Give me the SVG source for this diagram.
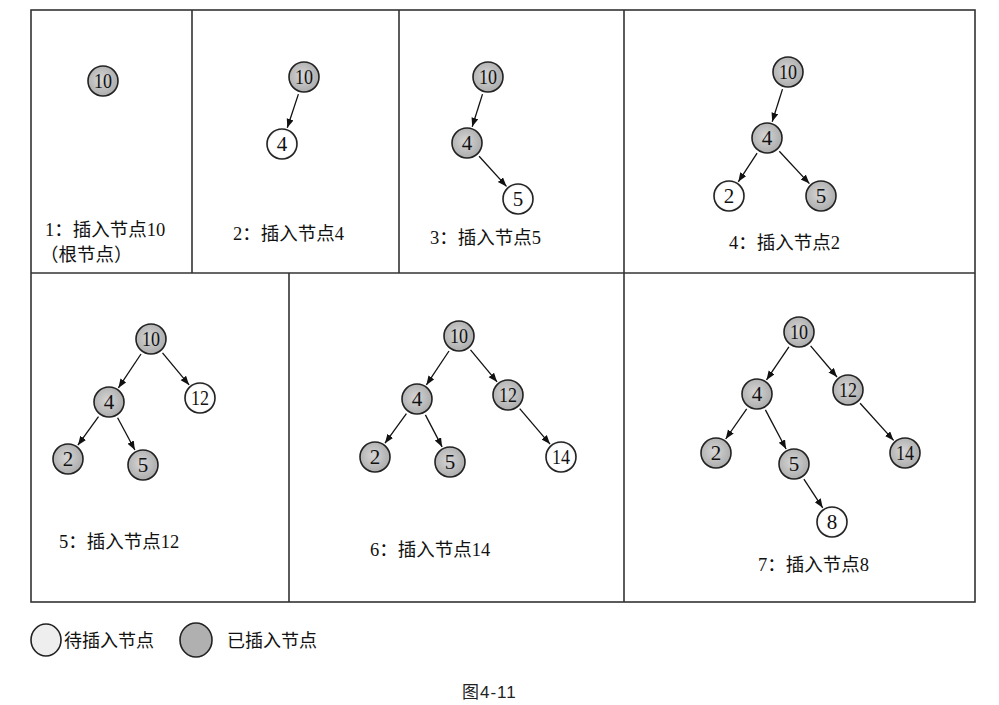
<svg xmlns="http://www.w3.org/2000/svg" width="999" height="705" viewBox="0 0 999 705">
<defs>
<radialGradient id="g" cx="0.45" cy="0.45" r="0.6">
<stop offset="0" stop-color="#d6d6d6"/>
<stop offset="1" stop-color="#a9a9a9"/>
</radialGradient>
<radialGradient id="w" cx="0.5" cy="0.5" r="0.55">
<stop offset="0.75" stop-color="#ffffff"/>
<stop offset="1" stop-color="#dcdcdc"/>
</radialGradient>
<marker id="ah" markerUnits="userSpaceOnUse" markerWidth="10" markerHeight="8" refX="9" refY="3.5" orient="auto">
<path d="M0,0 L9,3.5 L0,7 z" fill="#111"/>
</marker>
</defs>
<style>
.frame{fill:none;stroke:#333;stroke-width:1.6}
.done{fill:url(#g);stroke:#222;stroke-width:1.6}
.new{fill:url(#w);stroke:#222;stroke-width:1.6}
.num{font-family:"Liberation Serif",serif;font-size:21px;fill:#111;text-anchor:middle;dominant-baseline:central}
.lbl{font-family:"Liberation Serif","Noto Sans CJK SC",serif;font-size:18.5px;fill:#111}
.leg{font-family:"Noto Sans CJK SC",sans-serif;font-size:18px;fill:#111}
.cap{font-family:"Liberation Sans","Noto Sans CJK SC",sans-serif;font-size:17px;fill:#222}
#edges line{stroke:#111;stroke-width:1.3;marker-end:url(#ah)}
</style>
<rect width="999" height="705" fill="#fff"/>
<g id="frame">
<rect class="frame" x="31" y="10" width="944" height="592"/>
<line class="frame" x1="31" y1="273" x2="975" y2="273"/>
<line class="frame" x1="192" y1="10" x2="192" y2="273"/>
<line class="frame" x1="399" y1="10" x2="399" y2="273"/>
<line class="frame" x1="624" y1="10" x2="624" y2="602"/>
<line class="frame" x1="289" y1="273" x2="289" y2="602"/>
</g>
<g id="edges">
<line x1="298.4" y1="94.1" x2="287.3" y2="127.8"/>
<line x1="482.5" y1="94.1" x2="472.2" y2="126.8"/>
<line x1="479.1" y1="156.3" x2="506.5" y2="186.4"/>
<line x1="782.5" y1="89.1" x2="772.2" y2="121.8"/>
<line x1="757.1" y1="153.1" x2="738.3" y2="181.8"/>
<line x1="779.3" y1="151.2" x2="809.4" y2="183.6"/>
<line x1="141" y1="354" x2="118.4" y2="387.9"/>
<line x1="162.5" y1="352.8" x2="189.1" y2="384.9"/>
<line x1="98.5" y1="416.6" x2="77.9" y2="445.2"/>
<line x1="117.6" y1="417.8" x2="134.9" y2="450"/>
<line x1="449" y1="351" x2="426.4" y2="384.9"/>
<line x1="470.5" y1="349.8" x2="497.1" y2="381.9"/>
<line x1="406.4" y1="413.6" x2="385" y2="443.2"/>
<line x1="425.4" y1="414.9" x2="442.1" y2="446.9"/>
<line x1="519.7" y1="408.7" x2="550" y2="444.1"/>
<line x1="788.9" y1="346.9" x2="766.5" y2="379.9"/>
<line x1="810.6" y1="345.8" x2="837" y2="377"/>
<line x1="746.7" y1="408.8" x2="725.7" y2="439"/>
<line x1="765.4" y1="409.9" x2="786.1" y2="449"/>
<line x1="860.1" y1="403.3" x2="893.6" y2="440.4"/>
<line x1="803.9" y1="479.1" x2="822.7" y2="507.8"/>
</g>
<g id="p1">
<g id="p1n10"><circle class="done" cx="103" cy="81" r="15"/><text class="num" x="103" y="81" textLength="18" lengthAdjust="spacingAndGlyphs">10</text></g>
<text class="lbl" x="45" y="236">1：插入节点10</text>
<text class="lbl" x="40" y="261">（根节点）</text>
</g>
<g id="p2">
<g id="p2n10"><circle class="done" cx="304" cy="77" r="15"/><text class="num" x="304" y="77" textLength="18" lengthAdjust="spacingAndGlyphs">10</text></g>
<g id="p2n4"><circle class="new" cx="282" cy="144" r="15"/><text class="num" x="282" y="144">4</text></g>
<text class="lbl" x="233" y="240">2：插入节点4</text>
</g>
<g id="p3">
<g id="p3n10"><circle class="done" cx="488" cy="77" r="15"/><text class="num" x="488" y="77" textLength="18" lengthAdjust="spacingAndGlyphs">10</text></g>
<g id="p3n4"><circle class="done" cx="467" cy="143" r="15"/><text class="num" x="467" y="143">4</text></g>
<g id="p3n5"><circle class="new" cx="518" cy="199" r="15"/><text class="num" x="518" y="199">5</text></g>
<text class="lbl" x="430" y="244">3：插入节点5</text>
</g>
<g id="p4">
<g id="p4n10"><circle class="done" cx="788" cy="72" r="15"/><text class="num" x="788" y="72" textLength="18" lengthAdjust="spacingAndGlyphs">10</text></g>
<g id="p4n4"><circle class="done" cx="767" cy="138" r="15"/><text class="num" x="767" y="138">4</text></g>
<g id="p4n2"><circle class="new" cx="729" cy="196" r="15"/><text class="num" x="729" y="196">2</text></g>
<g id="p4n5"><circle class="done" cx="821" cy="196" r="15"/><text class="num" x="821" y="196">5</text></g>
<text class="lbl" x="729" y="249">4：插入节点2</text>
</g>
<g id="p5">
<g id="p5n10"><circle class="done" cx="151" cy="339" r="15"/><text class="num" x="151" y="339" textLength="18" lengthAdjust="spacingAndGlyphs">10</text></g>
<g id="p5n4"><circle class="done" cx="109" cy="402" r="15"/><text class="num" x="109" y="402">4</text></g>
<g id="p5n12"><circle class="new" cx="200" cy="398" r="15"/><text class="num" x="200" y="398" textLength="18" lengthAdjust="spacingAndGlyphs">12</text></g>
<g id="p5n2"><circle class="done" cx="68" cy="459" r="15"/><text class="num" x="68" y="459">2</text></g>
<g id="p5n5"><circle class="done" cx="143" cy="465" r="15"/><text class="num" x="143" y="465">5</text></g>
<text class="lbl" x="59" y="548">5：插入节点12</text>
</g>
<g id="p6">
<g id="p6n10"><circle class="done" cx="459" cy="336" r="15"/><text class="num" x="459" y="336" textLength="18" lengthAdjust="spacingAndGlyphs">10</text></g>
<g id="p6n4"><circle class="done" cx="417" cy="399" r="15"/><text class="num" x="417" y="399">4</text></g>
<g id="p6n12"><circle class="done" cx="508" cy="395" r="15"/><text class="num" x="508" y="395" textLength="18" lengthAdjust="spacingAndGlyphs">12</text></g>
<g id="p6n2"><circle class="done" cx="375" cy="457" r="15"/><text class="num" x="375" y="457">2</text></g>
<g id="p6n5"><circle class="done" cx="450" cy="462" r="15"/><text class="num" x="450" y="462">5</text></g>
<g id="p6n14"><circle class="new" cx="561" cy="457" r="15"/><text class="num" x="561" y="457" textLength="18" lengthAdjust="spacingAndGlyphs">14</text></g>
<text class="lbl" x="370" y="556">6：插入节点14</text>
</g>
<g id="p7">
<g id="p7n10"><circle class="done" cx="799" cy="332" r="15"/><text class="num" x="799" y="332" textLength="18" lengthAdjust="spacingAndGlyphs">10</text></g>
<g id="p7n4"><circle class="done" cx="757" cy="394" r="15"/><text class="num" x="757" y="394">4</text></g>
<g id="p7n12"><circle class="done" cx="848" cy="390" r="15"/><text class="num" x="848" y="390" textLength="18" lengthAdjust="spacingAndGlyphs">12</text></g>
<g id="p7n2"><circle class="done" cx="716" cy="453" r="15"/><text class="num" x="716" y="453">2</text></g>
<g id="p7n5"><circle class="done" cx="794" cy="464" r="15"/><text class="num" x="794" y="464">5</text></g>
<g id="p7n14"><circle class="done" cx="905" cy="453" r="15"/><text class="num" x="905" y="453" textLength="18" lengthAdjust="spacingAndGlyphs">14</text></g>
<g id="p7n8"><circle class="new" cx="832" cy="522" r="15"/><text class="num" x="832" y="522">8</text></g>
<text class="lbl" x="758" y="571">7：插入节点8</text>
</g>
<g id="legend">
<ellipse cx="46" cy="640" rx="15" ry="16" fill="#eeeeee" stroke="#222" stroke-width="1.6"/>
<text class="leg" x="64" y="647">待插入节点</text>
<ellipse cx="196" cy="640" rx="16" ry="17" fill="#b0b0b0" stroke="#222" stroke-width="1.6"/>
<text class="leg" x="227" y="647">已插入节点</text>
</g>
<text class="cap" x="462" y="698" letter-spacing="1">图4-11</text>
</svg>
